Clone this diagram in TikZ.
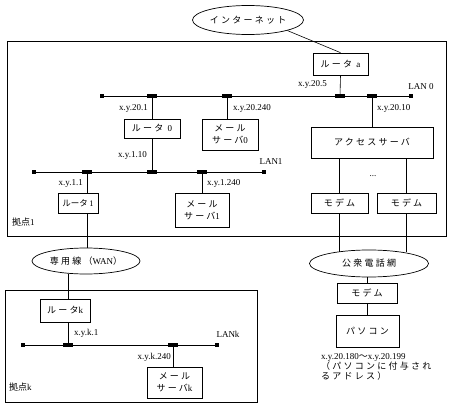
\documentclass[tikz,border=0pt]{standalone}
\usepackage{fontspec}
\setmainfont{Liberation Serif}
\newfontfamily\jp{Noto Sans CJK JP}
\newfontfamily\jpw{Noto Sans CJK JP}[LetterSpace=25]
\usetikzlibrary{shapes.geometric}
\newcommand{\rr}[1]{{\rmfamily #1}}
\begin{document}
\begin{tikzpicture}[x=1pt,y=-1pt,
  box/.style={draw, line width=0.7pt, inner sep=0pt, align=center, font=\jpw\fontsize{9}{12}\selectfont},
  oval/.style={draw, ellipse, line width=0.7pt, inner sep=0pt, font=\jpw\fontsize{9}{11}\selectfont},
  lan/.style={line width=0.8pt},
  link/.style={line width=0.6pt},
  jn/.style={fill=black, minimum width=10pt, minimum height=4pt, inner sep=0pt},
  en/.style={fill=black, minimum size=3.5pt, inner sep=0pt},
  lbl/.style={font=\fontsize{9}{10}\selectfont, inner sep=0pt},
  jlbl/.style={font=\jp\fontsize{9}{10}\selectfont, inner sep=0pt},
  site/.style={draw, line width=0.8pt}
]
\useasboundingbox (0,0) rectangle (450,415);

% site boxes
\draw[site] (7,41) rectangle (446,236);
\draw[site] (5,290) rectangle (257,402);

% clouds
\node[oval, minimum width=111pt, minimum height=29pt] (inet) at (248,20) {インターネット};
\node[oval, minimum width=119pt, minimum height=27pt] (pstn) at (369,263.5) {公衆電話網};
\node[oval, minimum width=108pt, minimum height=26pt] (wan) at (86,261) {専用線（\rr{WAN}）};

% boxes
\node[box, minimum width=55pt, minimum height=22pt] (ra) at (340.5,64) {ルータ \rr{a}};
\node[box, minimum width=56pt, minimum height=19pt] (r0) at (152,128.5) {ルータ \rr{0}};
\node[box, minimum width=56pt, minimum height=31pt] (ms0) at (230,134.5) {メール\\サーバ\rr{0}};
\node[box, minimum width=122pt, minimum height=31pt] (as) at (372,142.5) {アクセスサーバ};
\node[box, minimum width=57pt, minimum height=20pt] (m1) at (339.5,203) {モデム};
\node[box, minimum width=59pt, minimum height=20pt] (m2) at (406.5,203) {モデム};
\node[box, minimum width=40pt, minimum height=20pt, font=\jp\fontsize{8.5}{11}\selectfont] (r1) at (78,203) {ルータ\,\rr{1}};
\node[box, minimum width=54pt, minimum height=34pt] (ms1) at (202,210) {メール\\サーバ\rr{1}};
\node[box, minimum width=60pt, minimum height=20pt] (m3) at (367,293) {モデム};
\node[box, minimum width=63pt, minimum height=32pt] (pc) at (367.5,331) {パソコン};
\node[box, minimum width=50pt, minimum height=23pt] (rk) at (65,310.5) {ルータ\rr{k}};
\node[box, minimum width=55pt, minimum height=31pt] (msk) at (174.5,382.5) {メール\\サーバ\rr{k}};

% LAN 0
\node[en] (e0l) at (102,96) {};
\node[en] (e0r) at (411,96) {};
\node[jn] (j01) at (152,96) {};
\node[jn] (j02) at (227,96) {};
\node[jn] (j0a) at (340,96) {};
\node[jn] (j03) at (372,96) {};
\draw[lan] (e0l) -- (e0r);

% LAN 1
\node[en] (e1l) at (34,172) {};
\node[en] (e1r) at (264,172) {};
\node[jn] (j11) at (87,172) {};
\node[jn] (j12) at (152,172) {};
\node[jn] (j13) at (202,172) {};
\draw[lan] (e1l) -- (e1r);

% LAN k
\node[en] (ekl) at (23,345) {};
\node[en] (ekr) at (217,345) {};
\node[jn] (jk1) at (68,345) {};
\node[jn] (jk2) at (173,345) {};
\draw[lan] (ekl) -- (ekr);

% links
\draw[link] (inet.-15) -- (ra.north);
\draw[link] (ra.south) -- (j0a);
\draw[link] (j01) -- (r0.north);
\draw[link] (j02) -- (j02 |- ms0.north);
\draw[link] (j03) -- (as.north);
\draw[link] (r0.south) -- (j12);
\draw[link] (j11) -- (j11 |- r1.north);
\draw[link] (j13) -- (ms1.north);
\draw[link] (m1.north |- as.south) -- (m1.north);
\draw[link] (m2.north |- as.south) -- (m2.north);
\draw[link] (m1.south) -- (m1.south |- pstn.159);
\draw[link] (m2.south) -- (m2.south |- pstn.21);
\draw[link] (pstn.south -| m3.north) -- (m3.north);
\draw[link] (m3.south) -- (m3.south |- pc.north);
\draw[link] (j11 |- r1.south) -- (j11 |- wan.north);
\draw[link] (jk1 |- wan.214) -- (jk1 |- rk.north);
\draw[link] (jk1 |- rk.south) -- (jk1);
\draw[link] (jk2) -- (jk2 |- msk.north);

% labels
\node[lbl, anchor=east] (l1) at (327,84) {x.y.20.5};
\node[lbl] (l2) at (421,87) {LAN 0};
\node[lbl, anchor=east] (l3) at (148,108) {x.y.20.1};
\node[lbl, anchor=west] (l4) at (233,108) {x.y.20.240};
\node[lbl, anchor=west] (l5) at (377,108) {x.y.20.10};
\node[lbl, anchor=east] (l6) at (147,155) {x.y.1.10};
\node[lbl] (l7) at (271,162) {LAN1};
\node[lbl, anchor=east] (l8) at (83,183) {x.y.1.1};
\node[lbl, anchor=west] (l9) at (207,183) {x.y.1.240};
\node[lbl] (dots) at (373,176) {...};
\node[jlbl, anchor=west] (s1) at (12,222) {拠点\rr{1}};
\node[lbl, anchor=west] (l10) at (74,333) {x.y.k.1};
\node[lbl] (l11) at (228,334) {LANk};
\node[lbl, anchor=east] (l12) at (171,357) {x.y.k.240};
\node[jlbl, anchor=west] (sk) at (9,387) {拠点\rr{k}};
\node[lbl, anchor=north west, align=left, font=\fontsize{9}{10}\selectfont] (addr) at (321,353)
  {x.y.20.180{\jp ～}x.y.20.199\\{\jpw （パソコンに付与され}\\{\jpw るアドレス）}};
\end{tikzpicture}
\end{document}
